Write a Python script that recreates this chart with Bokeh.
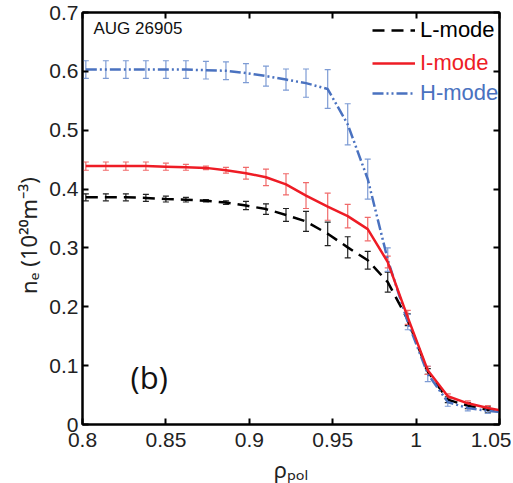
from bokeh.plotting import figure
from bokeh.models import (ColumnDataSource, Whisker, TeeHead, Legend, LegendItem,
                          LinearAxis, FixedTicker, Label, Range1d)
from bokeh.embed import file_html
from bokeh.resources import INLINE

# ---- data ----
rho = [0.802, 0.814, 0.826, 0.838, 0.850, 0.862, 0.874, 0.886, 0.898, 0.910, 0.922,
       0.934, 0.947, 0.959, 0.971, 0.983, 0.995, 1.007, 1.019, 1.031, 1.043, 1.055]
ne_L = [0.386, 0.386, 0.386, 0.385, 0.383, 0.382, 0.380, 0.377, 0.372, 0.366, 0.356,
        0.345, 0.324, 0.301, 0.279, 0.242, 0.178, 0.090, 0.042, 0.032, 0.025, 0.021]
ne_I = [0.439, 0.439, 0.439, 0.439, 0.438, 0.437, 0.436, 0.432, 0.427, 0.420, 0.408,
        0.389, 0.370, 0.354, 0.332, 0.276, 0.182, 0.092, 0.048, 0.036, 0.028, 0.022]
ne_H = [0.603, 0.603, 0.603, 0.603, 0.603, 0.603, 0.602, 0.601, 0.597, 0.592, 0.586,
        0.580, 0.570, 0.510, 0.417, 0.280, 0.174, 0.086, 0.038, 0.028, 0.023, 0.020]
err_L = [0.006, 0.006, 0.006, 0.006, 0.005, 0.004, 0.002, 0.003, 0.007, 0.009, 0.011,
         0.017, 0.020, 0.018, 0.015, 0.017, 0.010, 0.005, 0.005, 0.005, 0.005]
err_I = [0.007, 0.007, 0.007, 0.007, 0.006, 0.005, 0.003, 0.005, 0.010, 0.014, 0.018,
         0.022, 0.023, 0.020, 0.020, 0.010, 0.012, 0.007, 0.004, 0.004, 0.004]
err_H = [0.015, 0.015, 0.015, 0.015, 0.015, 0.015, 0.015, 0.015, 0.016, 0.017, 0.018,
         0.024, 0.033, 0.035, 0.034, 0.020, 0.013, 0.013, 0.007, 0.005, 0.004]
x_ticks = [0.8, 0.85, 0.9, 0.95, 1.0, 1.05]
x_tick_labels = ["0.8", "0.85", "0.9", "0.95", "1", "1.05"]
y_ticks = [0, 0.1, 0.2, 0.3, 0.4, 0.5, 0.6, 0.7]
y_tick_labels = ["0", "0.1", "0.2", "0.3", "0.4", "0.5", "0.6", "0.7"]
series_names = ["L-mode", "I-mode", "H-mode"]

FONT = "Liberation Sans"
LFONT = "Noto Sans"
C_L, C_I, C_H = "#000000", "#ee1c25", "#4a72c0"

p = figure(output_backend="svg", toolbar_location=None,
           frame_width=417, frame_height=412,
           min_border_left=82, min_border_right=12, min_border_top=12, min_border_bottom=56,
           x_range=Range1d(0.8, 1.05), y_range=Range1d(0, 0.7))
p.grid.visible = False
p.outline_line_color = "black"
p.outline_line_width = 2
p.background_fill_color = "white"
p.border_fill_color = "white"


def style_axis(ax, show_labels=True):
    ax.axis_line_width = 2
    ax.axis_line_color = "black"
    ax.major_tick_in = 6
    ax.major_tick_out = 0
    ax.major_tick_line_width = 2
    ax.minor_tick_line_color = None
    ax.major_label_text_font = FONT
    ax.major_label_text_font_size = "21px"
    ax.major_label_text_color = "#222222"
    if not show_labels:
        ax.major_label_text_font_size = "0px"
        ax.major_label_text_color = None
        ax.major_label_standoff = 0


xax = p.xaxis[0]
yax = p.yaxis[0]
style_axis(xax)
style_axis(yax)
xax.ticker = FixedTicker(ticks=x_ticks)
xax.major_label_overrides = {t: s for t, s in zip(x_ticks, x_tick_labels)}
yax.ticker = FixedTicker(ticks=y_ticks)
yax.major_label_overrides = {t: s for t, s in zip(y_ticks, y_tick_labels)}
xax.major_label_standoff = 8
yax.major_label_standoff = 4

NB = "\u00a0"
xax.axis_label = "ρₚₒₗ"
xax.axis_label_text_font = LFONT
xax.axis_label_text_font_size = "22px"
xax.axis_label_text_font_style = "normal"
xax.axis_label_text_color = "#222222"
xax.axis_label_standoff = 4
yax.axis_label = "nₑ (10²⁰m⁻³)" + NB * 6
yax.axis_label_text_font = LFONT
yax.axis_label_text_font_size = "22px"
yax.axis_label_text_font_style = "normal"
yax.axis_label_text_color = "#222222"
yax.axis_label_standoff = 3

top = LinearAxis(ticker=FixedTicker(ticks=x_ticks))
style_axis(top, False)
right = LinearAxis(ticker=FixedTicker(ticks=y_ticks))
style_axis(right, False)
p.add_layout(top, "above")
p.add_layout(right, "right")

src = ColumnDataSource(dict(x=rho, L=ne_L, I=ne_I, H=ne_H))

rL = p.line("x", "L", source=src, line_color=C_L, line_width=2.5, line_dash="12 7")
rH = p.line("x", "H", source=src, line_color=C_H, line_width=2.5, line_dash="11 3 2 3 2 3")
rI = p.line("x", "I", source=src, line_color=C_I, line_width=2.5)

n = len(err_L)
for vals, err, col in ((ne_L, err_L, "#222222"), (ne_H, err_H, "#7d9bd4"), (ne_I, err_I, "#f06a6a")):
    s = ColumnDataSource(dict(x=rho[:n],
                              lo=[v - e for v, e in zip(vals[:n], err)],
                              hi=[v + e for v, e in zip(vals[:n], err)]))
    w = Whisker(base="x", lower="lo", upper="hi", source=s, dimension="height",
                line_color=col, line_width=1.2,
                lower_head=TeeHead(size=6, line_color=col, line_width=1.2),
                upper_head=TeeHead(size=6, line_color=col, line_width=1.2))
    p.add_layout(w)

for r, lab, col, y in ((rL, series_names[0], C_L, 381), (rI, series_names[1], C_I, 348),
                       (rH, series_names[2], C_H, 318)):
    lg = Legend(items=[LegendItem(label=lab, renderers=[r])], location=(290, y),
                border_line_color=None, background_fill_alpha=0,
                padding=0, margin=0, glyph_width=43, glyph_height=26, label_height=26,
                label_standoff=5, label_text_font=FONT, label_text_font_size="22px",
                label_text_color=col, label_text_baseline="middle")
    p.add_layout(lg)

p.add_layout(Label(x=0.8066, y=0.672, text="AUG 26905", text_font=FONT,
                   text_font_size="17px", text_color="#111111", text_baseline="middle"))
p.add_layout(Label(x=0.8288, y=0.0815, text="(b)", text_font="Open Sans",
                   text_font_size="31px", text_color="#111111", text_baseline="middle"))

open("out.html", "w").write(file_html(p, INLINE))
